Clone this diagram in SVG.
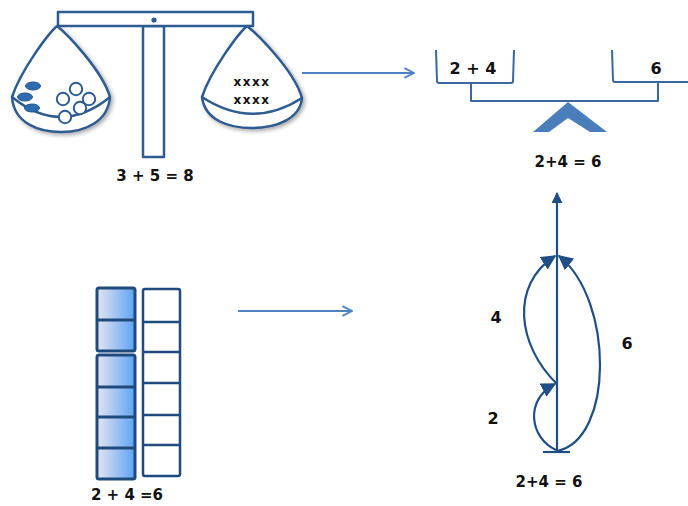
<svg xmlns="http://www.w3.org/2000/svg" width="688" height="506" viewBox="0 0 688 506">
  <style>
    .lbl { font-family: "DejaVu Sans", Verdana, sans-serif; font-weight: bold; fill: #111; text-anchor: middle; }
    .scale { fill: #fff; stroke: #2e5b91; stroke-width: 2.5; stroke-linejoin: round; }
    .cup { fill: none; stroke: #3a68a0; stroke-width: 2; stroke-linejoin: round; }
    .cell { stroke: #1f4a7e; stroke-width: 3; }
    .nl { fill: none; stroke: #1f4e85; stroke-width: 2.2; }
    .conn { fill: none; stroke: #4f81c2; stroke-width: 2; }
  </style>
  <defs>
    <linearGradient id="blockFill" x1="0" y1="0" x2="1" y2="0">
      <stop offset="0" stop-color="#e4e4f2"/>
      <stop offset="1" stop-color="#5ea4f2"/>
    </linearGradient>
    <filter id="panShadow" x="-20%" y="-20%" width="140%" height="140%">
      <feGaussianBlur in="SourceAlpha" stdDeviation="2"/>
      <feOffset dx="2" dy="2"/>
      <feComponentTransfer><feFuncA type="linear" slope="0.35"/></feComponentTransfer>
      <feMerge><feMergeNode/><feMergeNode in="SourceGraphic"/></feMerge>
    </filter>
    <marker id="open" viewBox="0 0 10 10" refX="9" refY="5" markerWidth="12" markerHeight="12" markerUnits="userSpaceOnUse" orient="auto">
      <path d="M1,1 L9,5 L1,9" fill="none" stroke="#4f81c2" stroke-width="1.6"/>
    </marker>
    <marker id="solid" viewBox="0 0 10 10" refX="9" refY="5" markerWidth="15" markerHeight="15" markerUnits="userSpaceOnUse" orient="auto">
      <path d="M0,0 L10,5 L0,10 Z" fill="#1f4e85"/>
    </marker>
    <marker id="tip" viewBox="0 0 10 10" refX="9" refY="5" markerWidth="11" markerHeight="11" markerUnits="userSpaceOnUse" orient="auto">
      <path d="M0,0 L10,5 L0,10 Z" fill="#1f4e85"/>
    </marker>
  </defs>

  <!-- pan balance with counters -->
  <g id="scale">
    <rect class="scale" x="143" y="26" width="21" height="131"/>
    <rect class="scale" x="58" y="12" width="195" height="14"/>
    <circle cx="154" cy="20" r="2.6" fill="#2e5b91"/>
    <g filter="url(#panShadow)">
      <path class="scale" d="M57,26 C48,34 21,70 12,97 C14,124 40,132 61,132 C86,132 108,121 110,97 C102,70 67,34 57,26 Z"/>
      <path class="scale" d="M12,97 Q61,137 110,97" fill="none"/>
    </g>
    <g filter="url(#panShadow)">
      <path class="scale" d="M247,26 C238,34 211,70 202,97 C205,121 230,128 252,128 C276,128 300,119 302,98 C294,70 257,34 247,26 Z"/>
      <path class="scale" d="M202,97 Q252,130 302,98" fill="none"/>
    </g>
    <g fill="#2e6bb0" stroke="#23548c" stroke-width="1">
      <ellipse cx="33" cy="86" rx="7.5" ry="4"/>
      <ellipse cx="25" cy="97" rx="7.5" ry="4"/>
      <ellipse cx="32" cy="108" rx="7.5" ry="4"/>
    </g>
    <g fill="#fff" stroke="#2e5b91" stroke-width="2">
      <circle cx="76" cy="89" r="6.2"/>
      <circle cx="63" cy="99" r="6.2"/>
      <circle cx="89" cy="99" r="6.2"/>
      <circle cx="80" cy="108" r="6.2"/>
      <circle cx="65" cy="117" r="6.2"/>
    </g>
    <text class="lbl" x="252" y="86" font-size="12" letter-spacing="1.5">xxxx</text>
    <text class="lbl" x="252" y="104" font-size="12" letter-spacing="1.5">xxxx</text>
    <text class="lbl" x="155" y="181" font-size="15">3 + 5 = 8</text>
  </g>

  <!-- seesaw with cups -->
  <g id="balance">
    <path class="cup" d="M436,50 L437,81 Q437,83 439,83 L511,83 Q513,83 513,81 L514,50"/>
    <path class="cup" d="M612,50 L613,80 Q613,82 615,82 L688,82"/>
    <path class="cup" d="M471,83 L471,101 L658,101 L658,82"/>
    <polygon points="568,102 607,132 590,132 568,118 549,132 533,132" fill="#4a7ebb"/>
    <text class="lbl" x="473" y="74" font-size="16">2 + 4</text>
    <text class="lbl" x="656" y="74" font-size="16">6</text>
    <text class="lbl" x="568" y="167" font-size="15">2+4 = 6</text>
  </g>

  <!-- unit blocks -->
  <g id="blocks">
    <rect class="cell" x="97" y="288" width="38" height="63" rx="2" fill="url(#blockFill)"/>
    <line class="cell" x1="97" y1="320" x2="135" y2="320"/>
    <rect class="cell" x="97" y="355" width="38" height="124" rx="2" fill="url(#blockFill)"/>
    <line class="cell" x1="97" y1="387" x2="135" y2="387"/>
    <line class="cell" x1="97" y1="417" x2="135" y2="417"/>
    <line class="cell" x1="97" y1="448" x2="135" y2="448"/>
    <rect x="143" y="289" width="37" height="187" rx="2" fill="#fff" stroke="#1f4a7e" stroke-width="2.5"/>
    <g stroke="#1f4a7e" stroke-width="2.5">
      <line x1="143" y1="322" x2="180" y2="322"/>
      <line x1="143" y1="352" x2="180" y2="352"/>
      <line x1="143" y1="383" x2="180" y2="383"/>
      <line x1="143" y1="415" x2="180" y2="415"/>
      <line x1="143" y1="445" x2="180" y2="445"/>
    </g>
    <text class="lbl" x="127" y="500" font-size="15">2 + 4 =6</text>
  </g>

  <!-- number line with jumps -->
  <g id="numberline">
    <line class="nl" x1="557" y1="452" x2="557" y2="193" marker-end="url(#tip)"/>
    <line class="nl" x1="543" y1="452" x2="570" y2="452" stroke-width="2.5"/>
    <path class="nl" d="M556,450 C530,438 524,400 555,384" marker-end="url(#solid)"/>
    <path class="nl" d="M557,384 C517,345 510,285 555,256" marker-end="url(#solid)"/>
    <path class="nl" d="M557,451 C614,440 614,300 559,256" marker-end="url(#solid)"/>
    <text class="lbl" x="496" y="323" font-size="16">4</text>
    <text class="lbl" x="627" y="349" font-size="16">6</text>
    <text class="lbl" x="493" y="424" font-size="16">2</text>
    <text class="lbl" x="549" y="487" font-size="15">2+4 = 6</text>
  </g>

  <!-- connectors -->
  <g id="connectors">
    <line class="conn" x1="302" y1="73" x2="414" y2="73" marker-end="url(#open)"/>
    <line class="conn" x1="238" y1="311" x2="352" y2="311" marker-end="url(#open)"/>
  </g>
</svg>
